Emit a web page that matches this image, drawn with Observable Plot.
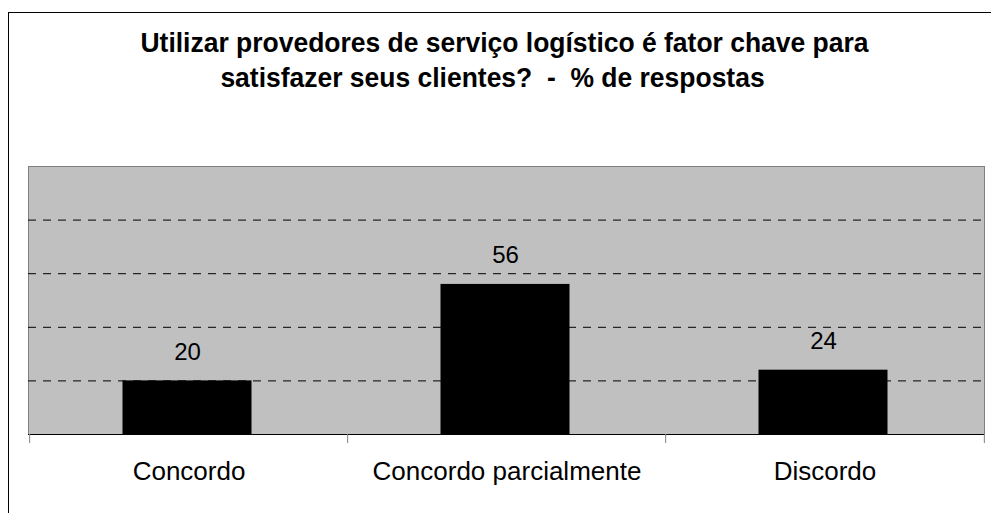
<!DOCTYPE html>
<html><head><meta charset="utf-8">
<script src="https://cdn.jsdelivr.net/npm/d3@7"></script>
<script src="https://cdn.jsdelivr.net/npm/@observablehq/plot@0.6"></script>
<style>
html,body{margin:0;padding:0;background:#fff;}
#wrap{position:relative;width:991px;height:513px;overflow:hidden;font-family:"Liberation Sans",Arial,sans-serif;}
#border{position:absolute;left:8px;top:12px;width:1200px;height:800px;border:1px solid #000;box-sizing:border-box;pointer-events:none;}
#title{position:relative;height:140px;}
.tl{position:absolute;width:991px;text-align:center;font-weight:bold;font-size:27px;line-height:35px;white-space:pre;color:#000;transform-origin:50% 50%;}
#chart svg{display:block;}
</style></head>
<body><div id="wrap"><div id="title"><div class="tl" id="t1"></div><div class="tl" id="t2"></div></div><div id="chart"></div><div id="border"></div></div>
<script>
const titleLines = ["Utilizar provedores de serviço logístico é fator chave para", "satisfazer seus clientes?  -  % de respostas"];
const categories = ["Concordo", "Concordo parcialmente", "Discordo"];
const values = [20, 56, 24];
const yTicks = [0, 20, 40, 60, 80, 100];

const data = categories.map((c, i) => ({cat: c, value: values[i]}));

const FONT = "'Liberation Sans', Arial, sans-serif";
const ctx = document.createElement("canvas").getContext("2d");
function measure(txt, font) { ctx.font = font; return ctx.measureText(txt).width; }

// title
const sxTitle = 728 / measure(titleLines[0], `bold 27px ${FONT}`);
const t1 = document.getElementById("t1"), t2 = document.getElementById("t2");
t1.textContent = titleLines[0]; t2.textContent = titleLines[1];
t1.style.top = "26px"; t1.style.left = "8.5px";
t2.style.top = "61px"; t2.style.left = "-3.5px";
t1.style.transform = `scaleX(${sxTitle})`;
t2.style.transform = `scaleX(${sxTitle})`;

const W = 991, H = 373, mL = 28, mR = 7, mT = 26, mB = 79;
const step = (W - mL - mR) / categories.length;
const sxCat = 105 / measure(categories[0], `26px ${FONT}`);
const sxVal = sxCat;

const svg = Plot.plot({
  width: W, height: H,
  marginLeft: mL, marginRight: mR, marginTop: mT, marginBottom: mB,
  style: {fontFamily: FONT, fontSize: "26px", color: "#000", background: "transparent"},
  x: {domain: categories, paddingInner: 0.595, paddingOuter: 0.2975, axis: null, label: null},
  y: {domain: [0, 100], axis: null},
  marks: [
    Plot.frame({fill: "#c0c0c0", stroke: "#808080"}),
    Plot.ruleY(yTicks.filter(v => v > 0 && v < 100), {stroke: "#000", strokeDasharray: "8,7"}),
    Plot.barY(data, {x: "cat", y: "value", fill: "#000", dx: -1.5}),
    Plot.ruleY([0], {stroke: "#000", strokeWidth: 1.2}),
    Plot.ruleX(categories, {x: d => d, dx: -step / 2, y1: 0, y2: 0, insetBottom: -9, stroke: "#808080"}),
    Plot.ruleX([categories[categories.length - 1]], {x: d => d, dx: step / 2, y1: 0, y2: 0, insetBottom: -9, stroke: "#808080"}),
    Plot.text(data, {x: "cat", y: "value", text: d => String(d.value), dy: -21, dx: -1.5, lineAnchor: "bottom", fontSize: 24, fill: "#000", ariaLabel: "values"}),
    Plot.axisX({tickSize: 0, tickPadding: 27, fontSize: 26, fill: "#000", label: null, ariaLabel: "cats"})
  ]
});

function squeeze(sel, sx) {
  svg.querySelectorAll(sel).forEach(t => {
    const tr = t.getAttribute("transform") || "";
    const x = +(t.getAttribute("x") || 0), y = +(t.getAttribute("y") || 0);
    t.removeAttribute("x"); t.removeAttribute("y");
    t.setAttribute("transform", `${tr} translate(${x},${y}) scale(${sx},1)`);
  });
}
squeeze('g[aria-label="values"] text', sxVal);
squeeze('g[aria-label="cats"] text', sxCat);

document.getElementById("chart").appendChild(svg);
</script>
</body></html>
